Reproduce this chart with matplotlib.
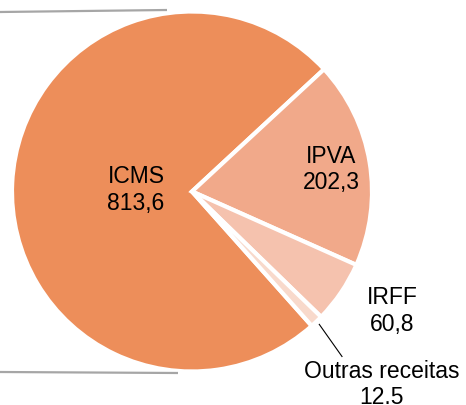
import numpy as np
import matplotlib.pyplot as plt

# receitas (valores do grafico)
labels = ["ICMS", "IPVA", "IRFF", "Outras receitas"]
values = [813.6, 202.3, 60.8, 12.5]
value_txt = ["813,6", "202,3", "60,8", "12.5"]
colors = ["#ED8E5A", "#F1A98A", "#F5C2AE", "#F8D9CB"]

plt.rcParams['font.family'] = ['Liberation Sans', 'DejaVu Sans']

fig = plt.figure(figsize=(4.66, 4.06), dpi=100)
ax = fig.add_axes([0, 0, 1, 1])

cx, cy, R = 192, 213.5, 180
wedges, _ = ax.pie(values, colors=colors, startangle=-48.3, counterclock=False,
                   center=(cx, cy), radius=R, frame=True,
                   wedgeprops=dict(edgecolor='white', linewidth=3))
ax.set_xlim(0, 466)
ax.set_ylim(0, 406)
ax.set_aspect('equal')
ax.axis('off')

# connector lines from the (cut off) chart on the left
ax.plot([0, cx - 25], [cy + R - 0.5, cy + R + 1.5], color='#A6A6A6', lw=1.6, solid_capstyle='butt')
ax.plot([0, cx - 14], [cy - R - 0.5, cy - R - 1.5], color='#A6A6A6', lw=1.6, solid_capstyle='butt')

# labels: (distance, angle offset) per slice
place = [(56, 0), (141, 0), (233, 3.5), (270, 0.9)]
for w, lab, vt, (d, off) in zip(wedges, labels, value_txt, place):
    a = np.deg2rad((w.theta1 + w.theta2) / 2 + off)
    x, y = cx + d * np.cos(a), cy + d * np.sin(a)
    ax.text(x, y, f"{lab}\n{vt}", ha='center', va='center', fontsize=16.5,
            linespacing=1.2, color='black')

# leader line for the small slice
w = wedges[3]
a = np.deg2rad((w.theta1 + w.theta2) / 2)
ax.plot([cx + 184 * np.cos(a), cx + 150], [cy + 184 * np.sin(a), cy - 165],
        color='black', lw=0.8)

fig.savefig("out.png", dpi=100)
